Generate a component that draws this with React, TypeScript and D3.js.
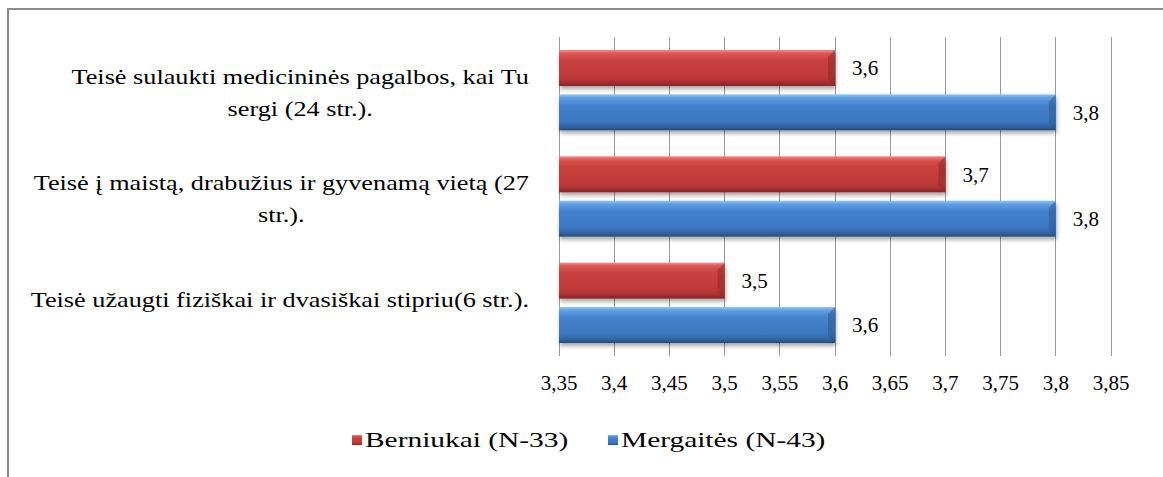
import React, { useEffect, useRef } from "react";
import * as d3 from "d3";

const categories: string[][] = [
  ["Teisė sulaukti medicininės pagalbos, kai Tu", "sergi (24 str.)."],
  ["Teisė į maistą, drabužius ir gyvenamą vietą (27", "str.)."],
  ["Teisė užaugti fiziškai ir dvasiškai stipriu(6 str.)."],
];
const seriesNames = ["Berniukai (N-33)", "Mergaitės (N-43)"];
const boys = [3.6, 3.7, 3.5];
const girls = [3.8, 3.8, 3.6];
const ticks = [3.35, 3.4, 3.45, 3.5, 3.55, 3.6, 3.65, 3.7, 3.75, 3.8, 3.85];

const FONT = "Liberation Serif, Tinos, DejaVu Serif, serif";
const fmt = (v: number) => String(v).replace(".", ",");

export default function App() {
  const ref = useRef<SVGSVGElement>(null);

  useEffect(() => {
    const svg = d3.select(ref.current);
    svg.selectAll("*").remove();

    const left = 559, right = 1111, top = 37, bottom = 356;
    const x = d3.scaleLinear().domain([3.35, 3.85]).range([left, right]);
    const y = d3.scaleBand<number>().domain(d3.range(categories.length)).range([top, bottom]).padding(0);
    const bandH = y.bandwidth();
    const inner = d3.scaleBand<number>().domain([0, 1]).range([13, bandH - 13]).paddingInner(0.19).paddingOuter(0);
    const bh = inner.bandwidth();

    const stretch = (t: d3.Selection<SVGTextElement, any, any, any>, k: number) => {
      const w = (t.node() as SVGTextElement).getComputedTextLength();
      t.attr("textLength", w * k).attr("lengthAdjust", "spacingAndGlyphs");
      return w * k;
    };

    const defs = svg.append("defs");
    const mkGrad = (id: string, stops: [number, string][]) => {
      const g = defs.append("linearGradient").attr("id", id).attr("x1", 0).attr("y1", 0).attr("x2", 0).attr("y2", 1);
      stops.forEach(([o, c]) => g.append("stop").attr("offset", o).attr("stop-color", c));
    };
    mkGrad("gRed", [[0, "#f08a88"], [0.1, "#dc5654"], [0.3, "#c8403f"], [0.75, "#c03a39"], [0.9, "#a83030"], [1, "#7e2524"]]);
    mkGrad("gBlue", [[0, "#8cc4f4"], [0.1, "#5f9ee6"], [0.3, "#4582cc"], [0.75, "#3c78c2"], [0.9, "#32629f"], [1, "#264b7c"]]);
    const sh = defs.append("filter").attr("id", "shadow").attr("x", -0.05).attr("y", -0.3).attr("width", 1.1).attr("height", 1.8);
    sh.append("feGaussianBlur").attr("in", "SourceAlpha").attr("stdDeviation", 2);
    sh.append("feOffset").attr("dx", 1).attr("dy", 3).attr("result", "b");
    sh.append("feComponentTransfer").append("feFuncA").attr("type", "linear").attr("slope", 0.35);
    const m = sh.append("feMerge");
    m.append("feMergeNode");
    m.append("feMergeNode").attr("in", "SourceGraphic");

    svg.append("rect").attr("x", 8).attr("y", 9).attr("width", 1300).attr("height", 600)
      .attr("fill", "white").attr("stroke", "#8a8a8a").attr("stroke-width", 2);

    svg.append("g").selectAll("line").data(ticks).join("line")
      .attr("x1", (d) => x(d)).attr("x2", (d) => x(d)).attr("y1", top).attr("y2", bottom)
      .attr("stroke", "#9a9a9a").attr("stroke-width", 1).attr("shape-rendering", "crispEdges");

    svg.append("g").selectAll("text").data(ticks).join("text")
      .attr("x", (d) => x(d)).attr("y", 383).attr("dy", "0.35em").attr("text-anchor", "middle")
      .style("font-family", FONT).attr("font-size", 21).attr("fill", "#000").text((d) => fmt(d));

    const series = [
      { vals: boys, grad: "gRed", cap: "#8e2a2a" },
      { vals: girls, grad: "gBlue", cap: "#2c5a94" },
    ];
    series.forEach((s, si) => {
      const g = svg.append("g");
      s.vals.forEach((v, ci) => {
        const y0 = (y(ci) as number) + (inner(si) as number);
        const x0 = x(3.35), x1 = x(v);
        const bar = g.append("g").attr("filter", "url(#shadow)");
        bar.append("rect").attr("x", x0).attr("y", y0).attr("width", x1 - x0).attr("height", bh)
          .attr("fill", `url(#${s.grad})`);
        const b = 7;
        bar.append("path")
          .attr("d", `M${x1 - b},${y0 + b} L${x1},${y0} L${x1},${y0 + bh} L${x1 - b},${y0 + bh - b} Z`)
          .attr("fill", s.cap).attr("opacity", 0.55);
        svg.append("text").attr("x", x1 + 17).attr("y", y0 + bh / 2).attr("dy", "0.35em")
          .style("font-family", FONT).attr("font-size", 21).attr("fill", "#000").text(fmt(v));
      });
    });

    const labelRight = 529;
    const lineH = 32;
    categories.forEach((lines, ci) => {
      const cy = (y(ci) as number) + bandH / 2 + (lines.length > 1 ? 2 : -3);
      const g = svg.append("g");
      const texts = lines.map((ln, li) =>
        g.append("text").attr("y", cy + (li - (lines.length - 1) / 2) * lineH).attr("dy", "0.35em")
          .style("font-family", FONT).attr("font-size", 21).attr("fill", "#000").attr("text-anchor", "middle").text(ln)
      );
      const ws = texts.map((t) => stretch(t, 1.25));
      const w = d3.max(ws) || 0;
      texts.forEach((t) => t.attr("x", labelRight - w / 2));
    });

    const lg = svg.append("g");
    const items = [
      { name: seriesNames[0], grad: "gRed", x: 352 },
      { name: seriesNames[1], grad: "gBlue", x: 608 },
    ];
    items.forEach((it) => {
      lg.append("rect").attr("x", it.x).attr("y", 435).attr("width", 10).attr("height", 10)
        .attr("fill", `url(#${it.grad})`);
      const t = lg.append("text").attr("x", it.x + 13).attr("y", 440).attr("dy", "0.35em")
        .style("font-family", FONT).attr("font-size", 21).attr("fill", "#000").text(it.name);
      stretch(t, 1.4);
    });
  }, []);

  return (
    <svg ref={ref} width={1163} height={477}
      style={{ position: "absolute", left: 0, top: 0, background: "white" }} />
  );
}
